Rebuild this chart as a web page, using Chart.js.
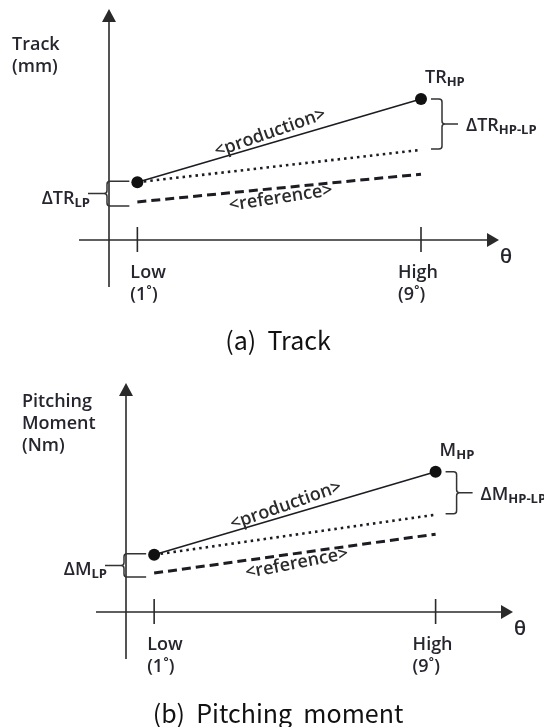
<!DOCTYPE html>
<html>
<head>
<meta charset="utf-8">
<script src="https://cdn.jsdelivr.net/npm/chart.js@4.4.1/dist/chart.umd.min.js"></script>
<style>
  body { margin: 0; background: #fff; }
  .panel { position: absolute; left: 0; }
  #panel-a { top: 0; }
  #panel-b { top: 360px; }
</style>
</head>
<body>
<canvas id="panel-a" class="panel" width="544" height="360"></canvas>
<canvas id="panel-b" class="panel" width="544" height="367"></canvas>
<script>
// --- DADOS (unidades arbitrárias, eixo θ em graus) ---
const thetaDeg = [1, 9];
const tickLabels = [['Low', '(1˚)'], ['High', '(9˚)']];
const tickLabelShift = [-7, -23];

const trackProduction = [2.5, 6.1];
const trackTrend = [2.5, 3.9];
const trackReference = [1.65, 2.85];

const momentProduction = [2.5, 6.12];
const momentTrend = [2.5, 4.25];
const momentReference = [1.7, 3.4];

const INK = '#1c1c22';
const TEXT = '#26262f';
const LABEL_FONT = '600 18px "Open Sans"';
const SUB_FONT = '700 13px "Open Sans"';
const CAPTION_FONT = '25px "Noto Sans CJK KR"';

function toPoints(values) {
    return thetaDeg.map((t, i) => ({ x: t, y: values[i] }));
}

// texto com subscrito (TR_HP, ΔM_LP ...)
function subLabel(ctx, main, sub, x, y, align) {
    ctx.font = LABEL_FONT;
    const w1 = ctx.measureText(main).width;
    ctx.font = SUB_FONT;
    const w2 = ctx.measureText(sub).width;
    const x0 = align === 'right' ? x - w1 - w2 : x;
    ctx.textAlign = 'left';
    ctx.textBaseline = 'alphabetic';
    ctx.font = LABEL_FONT;
    ctx.fillText(main, x0, y);
    ctx.font = SUB_FONT;
    ctx.fillText(sub, x0 + w1, y + 3);
}

// chave "}" ou "{" conforme o lado
function brace(ctx, xArm, xv, yTop, yBot, tipX) {
    const r = 3;
    const d = Math.sign(xv - xArm);
    const ym = (yTop + yBot) / 2;
    ctx.beginPath();
    ctx.moveTo(xArm, yTop);
    ctx.lineTo(xv - d * r, yTop);
    ctx.quadraticCurveTo(xv, yTop, xv, yTop + r);
    ctx.lineTo(xv, ym - r);
    ctx.quadraticCurveTo(xv, ym, xv + d * r, ym);
    ctx.quadraticCurveTo(xv, ym, xv, ym + r);
    ctx.lineTo(xv, yBot - r);
    ctx.quadraticCurveTo(xv, yBot, xv - d * r, yBot);
    ctx.lineTo(xArm, yBot);
    ctx.moveTo(xv + d * r, ym);
    ctx.lineTo(tipX, ym);
    ctx.stroke();
    return ym;
}

// texto inclinado ao longo de um segmento
function alongLine(ctx, text, p1, p2, t, offset, extraDeg) {
    const ang = Math.atan2(p2.y - p1.y, p2.x - p1.x) - extraDeg * Math.PI / 180;
    const cx = p1.x + (p2.x - p1.x) * t;
    const cy = p1.y + (p2.y - p1.y) * t;
    ctx.save();
    ctx.translate(cx, cy);
    ctx.rotate(ang);
    ctx.font = LABEL_FONT;
    ctx.textAlign = 'center';
    ctx.textBaseline = 'middle';
    ctx.fillText(text, 0, offset);
    ctx.restore();
}

const schematicPlugin = {
    id: 'schematic',
    beforeDatasetsDraw(chart) {
        const { ctx, chartArea: a, scales: { x } } = chart;
        ctx.save();
        ctx.strokeStyle = '#2a2a2a';
        ctx.fillStyle = '#2a2a2a';
        ctx.lineWidth = 1.6;
        // eixo vertical com seta
        ctx.beginPath();
        ctx.moveTo(a.left, a.bottom + 47);
        ctx.lineTo(a.left, a.top + 10);
        ctx.stroke();
        ctx.beginPath();
        ctx.moveTo(a.left, a.top);
        ctx.lineTo(a.left - 7, a.top + 13);
        ctx.lineTo(a.left + 7, a.top + 13);
        ctx.closePath();
        ctx.fill();
        // eixo horizontal com seta
        ctx.beginPath();
        ctx.moveTo(a.left - 30, a.bottom);
        ctx.lineTo(a.right - 10, a.bottom);
        ctx.stroke();
        ctx.beginPath();
        ctx.moveTo(a.right, a.bottom);
        ctx.lineTo(a.right - 12, a.bottom - 7);
        ctx.lineTo(a.right - 12, a.bottom + 7);
        ctx.closePath();
        ctx.fill();
        // marcas Low / High
        ctx.fillStyle = TEXT;
        ctx.font = LABEL_FONT;
        ctx.textAlign = 'left';
        ctx.textBaseline = 'alphabetic';
        thetaDeg.forEach((t, i) => {
            const px = x.getPixelForValue(t);
            ctx.beginPath();
            ctx.moveTo(px, a.bottom - 13);
            ctx.lineTo(px, a.bottom + 12);
            ctx.stroke();
            ctx.fillText(tickLabels[i][0], px + tickLabelShift[i], a.bottom + 38);
            ctx.fillText(tickLabels[i][1], px + tickLabelShift[i], a.bottom + 60);
        });
        ctx.font = '600 20px "Open Sans"';
        ctx.fillText('θ', a.right + 1, a.bottom + 23);
        ctx.restore();
    },
    afterDatasetsDraw(chart, args, opts) {
        const { ctx, chartArea: a } = chart;
        const prod = chart.getDatasetMeta(0).data;
        const trend = chart.getDatasetMeta(1).data;
        const ref = chart.getDatasetMeta(2).data;
        ctx.save();
        ctx.fillStyle = TEXT;
        ctx.strokeStyle = '#333';
        ctx.lineWidth = 1.5;

        // título do eixo y
        ctx.font = LABEL_FONT;
        ctx.textAlign = 'left';
        ctx.textBaseline = 'alphabetic';
        opts.yTitle.forEach((line, i) => {
            ctx.fillText(line, opts.yTitleX, opts.yTitleY + i * 22);
        });

        // rótulo do ponto alto
        subLabel(ctx, opts.name, 'HP', prod[1].x + 4, prod[1].y - 16, 'left');

        // chave direita: HP - LP
        const rx = prod[1].x + 10;
        const ymR = brace(ctx, rx, rx + 11, prod[1].y, trend[1].y - 1, rx + 27);
        subLabel(ctx, 'Δ' + opts.name, 'HP-LP', rx + 35, ymR + 7, 'left');

        // chave esquerda: LP
        const lx = prod[0].x - 8;
        const lv = a.left - 2;
        const ymL = brace(ctx, lx, lv, prod[0].y - 1, ref[0].y + 4, lv - 19);
        subLabel(ctx, 'Δ' + opts.name, 'LP', lv - 17, ymL + 10, 'right');

        // textos ao longo das linhas
        ctx.fillStyle = '#2b2b2b';
        alongLine(ctx, '<production>', prod[0], prod[1], 0.48, -10, 3);
        alongLine(ctx, '<reference>', ref[0], ref[1], 0.5, 10, 3);

        // legenda da figura
        ctx.fillStyle = '#111';
        ctx.font = CAPTION_FONT;
        ctx.textAlign = 'center';
        ctx.fillText(opts.caption, 278, opts.captionY);
        ctx.restore();
    }
};

function makePanel(id, production, trend, reference, padding, annot) {
    const ctx = document.getElementById(id).getContext('2d');
    return new Chart(ctx, {
        type: 'line',
        data: {
            datasets: [
                {
                    label: 'production',
                    data: toPoints(production),
                    borderColor: INK,
                    borderWidth: 1.6,
                    pointRadius: 6,
                    pointBackgroundColor: '#111',
                    pointBorderWidth: 0
                },
                {
                    label: 'trend',
                    data: toPoints(trend),
                    borderColor: INK,
                    borderWidth: 2.6,
                    borderDash: [2.5, 4],
                    pointRadius: 0
                },
                {
                    label: 'reference',
                    data: toPoints(reference),
                    borderColor: INK,
                    borderWidth: 3,
                    borderDash: [9, 5],
                    pointRadius: 0
                }
            ]
        },
        options: {
            animation: false,
            responsive: false,
            events: [],
            layout: { padding },
            scales: {
                x: { type: 'linear', min: 0.2, max: 11.2, display: false },
                y: { type: 'linear', min: 0, max: 10, display: false }
            },
            plugins: {
                legend: { display: false },
                tooltip: { enabled: false },
                schematic: annot
            }
        },
        plugins: [schematicPlugin]
    });
}

makePanel('panel-a', trackProduction, trackTrend, trackReference,
    { left: 109, right: 45, top: 9, bottom: 120 },
    { name: 'TR', yTitle: ['Track', '(mm)'], yTitleX: 12, yTitleY: 50,
      caption: '(a)  Track', captionY: 350 });

makePanel('panel-b', momentProduction, momentTrend, momentReference,
    { left: 126, right: 31, top: 23, bottom: 115 },
    { name: 'M', yTitle: ['Pitching', 'Moment', '(Nm)'], yTitleX: 22, yTitleY: 47,
      caption: '(b)  Pitching  moment', captionY: 363 });
</script>
</body>
</html>
